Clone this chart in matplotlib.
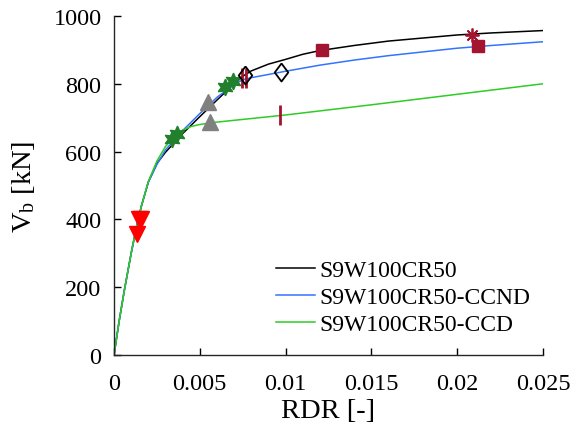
import matplotlib.pyplot as plt
import numpy as np

plt.rcParams['font.family'] = ['Liberation Serif', 'DejaVu Serif']
plt.rcParams['mathtext.fontset'] = 'custom'
plt.rcParams['mathtext.rm'] = 'Liberation Serif'
plt.rcParams['mathtext.it'] = 'Liberation Serif'

# pushover curves
rdr_black = [0, 0.0003, 0.0006, 0.001, 0.0013, 0.0016, 0.002, 0.0025, 0.003, 0.004, 0.005,
             0.006, 0.007, 0.0075, 0.008, 0.009, 0.010, 0.011, 0.012, 0.014, 0.016, 0.018,
             0.020, 0.022, 0.025]
vb_black = [0, 100, 190, 300, 375, 440, 510, 565, 598, 653, 703,
            752, 800, 822, 838, 858, 872, 887, 898, 913, 926, 935,
            944, 950, 957]

rdr_blue = [0, 0.0003, 0.0006, 0.001, 0.0013, 0.0016, 0.002, 0.0025, 0.003, 0.004, 0.005,
            0.006, 0.007, 0.0075, 0.008, 0.010, 0.012, 0.014, 0.016, 0.018, 0.020, 0.022,
            0.025]
vb_blue = [0, 100, 190, 300, 375, 440, 510, 562, 605, 662, 712,
           760, 798, 812, 818, 837, 855, 870, 883, 894, 905, 913,
           924]

rdr_green = [0, 0.0003, 0.0006, 0.001, 0.0013, 0.0016, 0.002, 0.0025, 0.003, 0.0035, 0.004,
             0.0045, 0.005, 0.006, 0.010, 0.015, 0.020, 0.025]
vb_green = [0, 100, 190, 300, 375, 440, 512, 572, 615, 643, 663,
            674, 680, 687, 708, 738, 769, 800]

# damage state markers
tri_down_x = [0.00132, 0.00146, 0.00157]
tri_down_y = [357, 401, 401]
hex_x = [0.00336, 0.00365, 0.00647, 0.00695]
hex_y = [637, 652, 790, 809]
tri_up_x = [0.0055, 0.0056]
tri_up_y = [745, 686]
bar_x = [0.00744, 0.00767, 0.00967]
bar_y = [816, 816, 707]
dia_x = [0.00763, 0.00973]
dia_y = [826, 834]
sq_x = [0.0121, 0.02123]
sq_y = [900, 910]
ast_x = [0.02084]
ast_y = [944]

labels = ['S9W100CR50', 'S9W100CR50-CCND', 'S9W100CR50-CCD']
dark_red = '#A2142F'

fig = plt.figure(figsize=(5.72, 4.31), dpi=100)
ax = fig.add_axes([0.1993, 0.174, 0.75, 0.7866])

ax.plot(rdr_black, vb_black, color='black', lw=1.1, label=labels[0])
ax.plot(rdr_blue, vb_blue, color='#3373FF', lw=1.1, label=labels[1])
ax.plot(rdr_green, vb_green, color='#2ECC24', lw=1.1, label=labels[2])

ax.plot(tri_down_x, tri_down_y, 'v', color='red', ms=11, ls='none')
ax.plot(hex_x, hex_y, marker=(6, 1, 0), color='#21802B', ms=12, ls='none')
ax.plot(tri_up_x, tri_up_y, '^', color='#808080', ms=12, ls='none')
ax.plot(bar_x, bar_y, '|', color=dark_red, ms=14, mew=2, ls='none')
diamond = [(0, 1), (0.75, 0), (0, -1), (-0.75, 0), (0, 1)]
ax.plot(dia_x, dia_y, marker=diamond, mfc='none', mec='black', mew=1.3, ms=13, ls='none')
ax.plot(sq_x, sq_y, 's', color=dark_red, ms=8.5, ls='none')
ax.plot(ast_x, ast_y, marker=(8, 2, 0), color=dark_red, ms=10, mew=1.3, ls='none')

ax.set_xlim(0, 0.025)
ax.set_ylim(0, 1000)
ax.set_xticks([0, 0.005, 0.01, 0.015, 0.02, 0.025])
ax.set_xticklabels(['0', '0.005', '0.01', '0.015', '0.02', '0.025'])
ax.set_yticks([0, 200, 400, 600, 800, 1000])
ax.tick_params(direction='in', labelsize=17.5, length=5, width=1)
ax.tick_params(axis='x', pad=13)
ax.tick_params(axis='y', pad=9)
ax.spines['top'].set_visible(False)
ax.spines['right'].set_visible(False)
for s in ['left', 'bottom']:
    ax.spines[s].set_linewidth(1)
    ax.spines[s].set_color('#262626')

ax.set_xlabel('RDR [-]', fontsize=20.5, labelpad=3)
ax.set_ylabel(r'V$_\mathrm{b}$ [kN]', fontsize=20.5, labelpad=12)

ax.legend(loc='upper left', bbox_to_anchor=(0.356, 0.31), frameon=False, fontsize=17,
          handlelength=1.65, handletextpad=0.2, labelspacing=0.24, borderpad=0.4,
          borderaxespad=0)

plt.savefig('out.png', dpi=100)
